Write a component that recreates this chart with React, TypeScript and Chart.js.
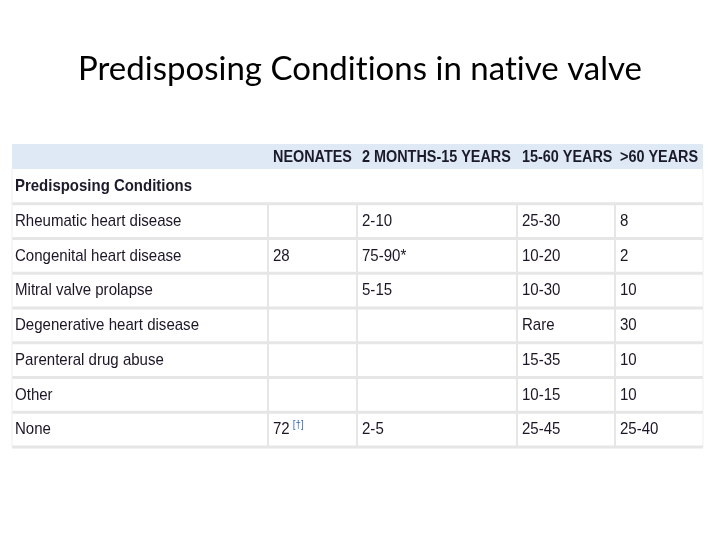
import React, { useEffect, useRef } from "react";
import { Chart, registerables } from "chart.js";

Chart.register(...registerables);

const titleText = "Predisposing Conditions in native valve";
const columnHeaders = ["NEONATES", "2 MONTHS-15 YEARS", "15-60 YEARS", ">60 YEARS"];
const subHeader = "Predisposing Conditions";
const conditions = [
  "Rheumatic heart disease",
  "Congenital heart disease",
  "Mitral valve prolapse",
  "Degenerative heart disease",
  "Parenteral drug abuse",
  "Other",
  "None",
];
const neonates = ["", "28", "", "", "", "", "72"];
const neonateNotes = ["", "", "", "", "", "", "[†]"];
const months2to15 = ["2-10", "75-90*", "5-15", "", "", "", "2-5"];
const years15to60 = ["25-30", "10-20", "10-30", "Rare", "15-35", "10-15", "25-45"];
const over60 = ["8", "2", "10", "30", "10", "10", "25-40"];

// layout (column edges in px units of the x scale)
const colEdges = [0, 256, 345, 505, 603, 691];
const HEADER_H = 0.72; // header row height in row units

const BODY_FONT = '"Liberation Sans", Arial, sans-serif';

function drawScaled(ctx: CanvasRenderingContext2D, text: string, x: number, y: number, font: string, sx: number) {
  ctx.save();
  ctx.font = font;
  ctx.translate(x, y);
  ctx.scale(sx, 1);
  ctx.fillText(text, 0, 0);
  const w = ctx.measureText(text).width * sx;
  ctx.restore();
  return w;
}

export default function App() {
  const ref = useRef<HTMLCanvasElement>(null);
  useEffect(() => {
    document.body.style.margin = "0";
    const canvas = ref.current!;
    const valueCols = [neonates, months2to15, years15to60, over60];
    const points: any[] = [];
    conditions.forEach((c, r) => {
      points.push({ x: colEdges[0], y: r + 1.5, text: c });
      valueCols.forEach((col, ci) => {
        points.push({ x: colEdges[ci + 1], y: r + 1.5, text: col[r], note: ci === 0 ? neonateNotes[r] : "" });
      });
    });

    const tablePlugin = {
      id: "tablePlugin",
      beforeDatasetsDraw(chart: any) {
        const ctx = chart.ctx as CanvasRenderingContext2D;
        const xs = chart.scales.x;
        const ys = chart.scales.y;
        const X = (v: number) => xs.getPixelForValue(v);
        const Y = (v: number) => ys.getPixelForValue(v);
        const left = X(colEdges[0]);
        const right = X(colEdges[colEdges.length - 1]);
        ctx.save();
        // title
        ctx.fillStyle = "#000";
        ctx.font = '33px "Lato", "Open Sans", sans-serif';
        (ctx as any).letterSpacing = "0.01px";
        ctx.textAlign = "center";
        ctx.textBaseline = "middle";
        ctx.fillText(titleText, 360, 69);
        (ctx as any).letterSpacing = "0px";

        // header background
        ctx.fillStyle = "#dfe9f5";
        ctx.fillRect(left, Y(-HEADER_H), right - left, Y(0) - Y(-HEADER_H));
        // header text
        ctx.fillStyle = "#1a1a2a";
        ctx.textAlign = "left";
        columnHeaders.forEach((h, i) => {
          drawScaled(ctx, h, X(colEdges[i + 1]) + 5, Y(-HEADER_H / 2) + 1, "bold 16px " + BODY_FONT, 0.9);
        });
        // subheader
        drawScaled(ctx, subHeader, left + 3, Y(0.5), "bold 17px " + BODY_FONT, 0.88);

        // grid lines
        ctx.strokeStyle = "#e6e6e6";
        ctx.lineWidth = 3;
        for (let r = 1; r <= conditions.length + 1; r++) {
          ctx.beginPath();
          ctx.moveTo(left, Y(r));
          ctx.lineTo(right, Y(r));
          ctx.stroke();
        }
        ctx.lineWidth = 2;
        for (let c = 1; c < colEdges.length - 1; c++) {
          ctx.beginPath();
          ctx.moveTo(X(colEdges[c]), Y(1));
          ctx.lineTo(X(colEdges[c]), Y(conditions.length + 1));
          ctx.stroke();
        }
        ctx.lineWidth = 1;
        ctx.strokeStyle = "#efefef";
        [left, right].forEach((x) => {
          ctx.beginPath();
          ctx.moveTo(x, Y(0));
          ctx.lineTo(x, Y(conditions.length + 1));
          ctx.stroke();
        });
        ctx.restore();
      },
      afterDatasetsDraw(chart: any) {
        const ctx = chart.ctx as CanvasRenderingContext2D;
        const meta = chart.getDatasetMeta(0);
        ctx.save();
        ctx.textAlign = "left";
        ctx.textBaseline = "middle";
        meta.data.forEach((el: any, i: number) => {
          const p = points[i];
          if (!p.text) return;
          const isFirst = p.x === colEdges[0];
          const x = el.x + (isFirst ? 3 : 5);
          ctx.fillStyle = "#1c1626";
          const w = drawScaled(ctx, p.text, x, el.y, "17px " + BODY_FONT, 0.885);
          if (p.note) {
            ctx.fillStyle = "#3a6fc4";
            drawScaled(ctx, p.note, x + w + 3, el.y - 5, "11px " + BODY_FONT, 0.9);
          }
        });
        ctx.restore();
      },
    };

    const chart = new Chart(canvas, {
      type: "scatter",
      data: {
        datasets: [
          {
            data: points,
            pointRadius: 0,
            pointHoverRadius: 0,
          },
        ],
      },
      options: {
        animation: false,
        responsive: false,
        events: [],
        layout: { padding: { left: 12, right: 17, top: 144, bottom: 93 } },
        plugins: { legend: { display: false }, tooltip: { enabled: false }, title: { display: false } },
        scales: {
          x: { type: "linear", display: false, min: colEdges[0], max: colEdges[colEdges.length - 1] },
          y: { type: "linear", display: false, reverse: true, min: -HEADER_H, max: conditions.length + 1 },
        },
      },
      plugins: [tablePlugin],
    });
    return () => chart.destroy();
  }, []);
  return <canvas ref={ref} width={720} height={540} style={{ display: "block" }} />;
}
